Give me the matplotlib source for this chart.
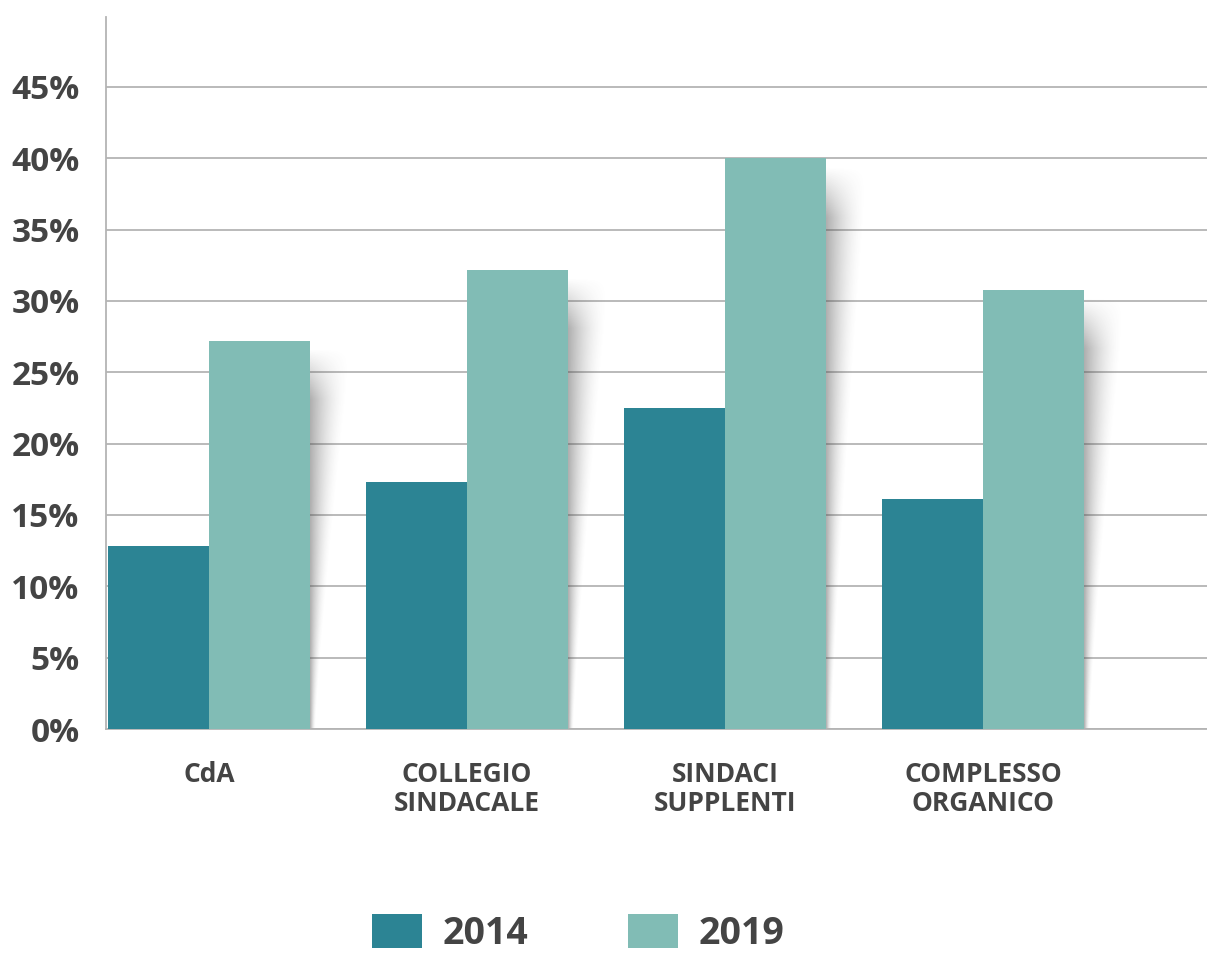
import numpy as np
import matplotlib
matplotlib.use("Agg")
import matplotlib.pyplot as plt
from matplotlib.patches import Patch

categories = ["CdA", "COLLEGIO\nSINDACALE", "SINDACI\nSUPPLENTI", "COMPLESSO\nORGANICO"]
values_2014 = [12.8, 17.3, 22.5, 16.1]
values_2019 = [27.2, 32.2, 40.0, 30.8]
series_labels = ["2014", "2019"]
y_ticks = [0, 5, 10, 15, 20, 25, 30, 35, 40, 45]

color_2014 = "#2C8494"
color_2019 = "#81BCB5"
text_color = "#444444"
grid_color = "#b4b4b4"

plt.rcParams["font.family"] = ["Open Sans", "DejaVu Sans"]

fig = plt.figure(figsize=(12.07, 9.58), dpi=100)
ax = fig.add_axes([106 / 1207, 1 - 729 / 958, 1 - 106 / 1207, (729 - 17) / 958])

x = np.arange(len(categories))
w = 0.391

ax.bar(x - w / 2, values_2014, w, color=color_2014, align="center", zorder=3)
ax.bar(x + w / 2, values_2019, w, color=color_2019, align="center", zorder=3)

# soft tapered shadow to the right of the 2019 bars
shadow_w = 0.17
for xi, top in zip(x, values_2019):
    edge = xi + w
    dx = np.linspace(0, shadow_w, 80)
    yy = np.linspace(0, top, 300)
    DX, YY = np.meshgrid(dx, yy)
    local_w = shadow_w * (0.12 + 0.88 * (YY / top) ** 1.2)
    fade_top = np.clip((top - 0.6 - YY) / 3.5, 0, 1)
    a = 0.45 * np.clip(1 - DX / local_w, 0, 1) ** 1.6 * fade_top
    rgba = np.zeros(DX.shape + (4,))
    rgba[..., :3] = 0.30
    rgba[..., 3] = a
    ax.imshow(rgba, extent=(edge, edge + shadow_w, 0, top), origin="lower",
              aspect="auto", interpolation="bilinear", zorder=2)

ax.set_xlim(-0.399, 3.868)
ax.set_ylim(0, 49.9)
ax.set_yticks(y_ticks)
ax.set_yticklabels([f"{t}%" for t in y_ticks])
ax.set_xticks(x)
ax.set_xticklabels(categories)

ax.yaxis.grid(True, color=grid_color, linewidth=1.3, zorder=1)
ax.set_axisbelow(True)
for side in ["top", "right"]:
    ax.spines[side].set_visible(False)
ax.spines["left"].set_color(grid_color)
ax.spines["left"].set_linewidth(1.3)
ax.spines["bottom"].set_color(grid_color)
ax.spines["bottom"].set_linewidth(1.3)
ax.tick_params(axis="both", length=0)
ax.tick_params(axis="y", pad=19, labelsize=24, labelcolor=text_color)
ax.tick_params(axis="x", pad=23, labelsize=19, labelcolor=text_color)
for lbl in ax.get_yticklabels() + ax.get_xticklabels():
    lbl.set_fontweight("bold")
for lbl in ax.get_xticklabels():
    lbl.set_linespacing(1.1)

handles = [Patch(facecolor=color_2014, edgecolor="none"),
           Patch(facecolor=color_2019, edgecolor="none")]
leg = fig.legend(handles, series_labels, loc="upper left",
                 bbox_to_anchor=(372 / 1207, 1 - 914 / 958), ncol=2,
                 frameon=False, fontsize=27, handlelength=1.33, handleheight=1.0,
                 handletextpad=0.56, columnspacing=2.65, borderpad=0, borderaxespad=0)
for t in leg.get_texts():
    t.set_color(text_color)
    t.set_fontweight("bold")

fig.savefig("out.png", dpi=100, facecolor="white")
